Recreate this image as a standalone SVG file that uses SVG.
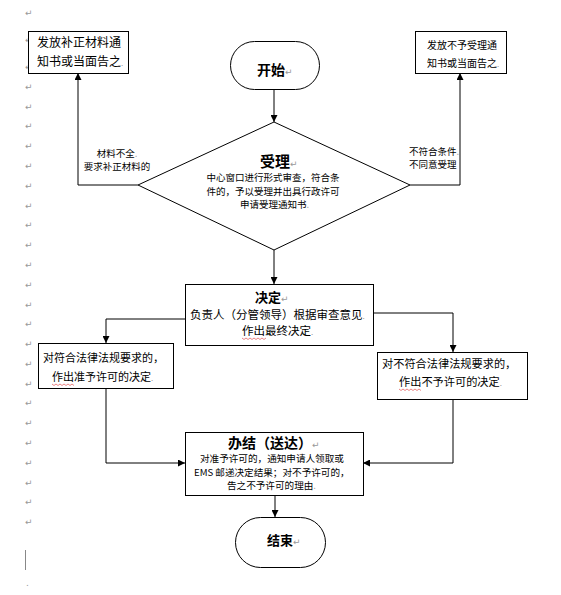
<svg xmlns="http://www.w3.org/2000/svg" width="561" height="595" viewBox="0 0 561 595">
<defs>
<marker id="ah" viewBox="0 0 10 10" refX="10" refY="5" markerWidth="7" markerHeight="7" orient="auto-start-reverse" markerUnits="userSpaceOnUse"><path d="M0,0 L10,5 L0,10 z" fill="#000"/></marker>
<style>
.box{fill:#fff;stroke:#000;stroke-width:1}
.ln{fill:none;stroke:#000;stroke-width:1}
.t{font-family:"Noto Sans CJK SC","Liberation Sans",sans-serif;fill:#000}
.b{font-weight:bold}
.pm{font-family:"DejaVu Sans",sans-serif;fill:#999;font-size:9px}
.sq{fill:none;stroke:#d33;stroke-width:0.6}
</style>
</defs>
<rect width="561" height="595" fill="#fff"/>
<g id="margin-marks">
<text class="pm" x="25" y="16">↵</text>
<text class="pm" x="25" y="43">↵</text>
<text class="pm" x="25" y="70">↵</text>
<text class="pm" x="25" y="90">↵</text>
<text class="pm" x="25" y="110">↵</text>
<text class="pm" x="25" y="129">↵</text>
<text class="pm" x="25" y="149">↵</text>
<text class="pm" x="25" y="169">↵</text>
<text class="pm" x="25" y="189">↵</text>
<text class="pm" x="25" y="209">↵</text>
<text class="pm" x="25" y="228">↵</text>
<text class="pm" x="25" y="248">↵</text>
<text class="pm" x="25" y="268">↵</text>
<text class="pm" x="25" y="288">↵</text>
<text class="pm" x="25" y="308">↵</text>
<text class="pm" x="25" y="327">↵</text>
<text class="pm" x="25" y="347">↵</text>
<text class="pm" x="25" y="367">↵</text>
<text class="pm" x="25" y="387">↵</text>
<text class="pm" x="25" y="406">↵</text>
<text class="pm" x="25" y="426">↵</text>
<text class="pm" x="25" y="446">↵</text>
<text class="pm" x="25" y="466">↵</text>
<text class="pm" x="25" y="486">↵</text>
<text class="pm" x="25" y="505">↵</text>
<text class="pm" x="25" y="525">↵</text>
<line x1="25.5" y1="550" x2="25.5" y2="570" stroke="#888" stroke-width="1"/>
<text class="pm" x="26" y="586">.</text>
</g>
<g id="connectors">
<line class="ln" x1="274" y1="89" x2="274" y2="122" marker-end="url(#ah)"/>
<polyline class="ln" points="138,185 78,185 78,73" marker-end="url(#ah)"/>
<polyline class="ln" points="410,185 460,185 460,73" marker-end="url(#ah)"/>
<line class="ln" x1="274" y1="250" x2="274" y2="284" marker-end="url(#ah)"/>
<polyline class="ln" points="185,319 106,319 106,343" marker-end="url(#ah)"/>
<polyline class="ln" points="373,313 453,313 453,352" marker-end="url(#ah)"/>
<polyline class="ln" points="106,388 106,463 185,463" marker-end="url(#ah)"/>
<polyline class="ln" points="453,399 453,463 363,463" marker-end="url(#ah)"/>
<line class="ln" x1="275" y1="495" x2="275" y2="517" marker-end="url(#ah)"/>
<text class="t" x="117" y="157" font-size="9.5" text-anchor="middle">材料不全<tspan fill="#999">.</tspan></text>
<text class="t" x="117" y="170" font-size="9.5" text-anchor="middle">要求补正材料的</text>
<text class="t" x="409" y="155" font-size="9.5">不符合条件<tspan fill="#999">.</tspan></text>
<text class="t" x="409" y="168" font-size="9.5">不同意受理</text>
</g>
<g id="node-supplement">
<rect class="box" x="28.5" y="31.5" width="100" height="42"/>
<text class="t" x="37" y="47" font-size="12">发放补正材料通</text>
<text class="t" x="37" y="66" font-size="12">知书或当面告之<tspan fill="#999" font-size="8">.</tspan></text>
</g>
<g id="node-reject">
<rect class="box" x="415.5" y="31.5" width="91" height="42"/>
<text class="t" x="427" y="49" font-size="10">发放不予受理通</text>
<text class="t" x="427" y="67" font-size="10">知书或当面告之<tspan fill="#999" font-size="8">.</tspan></text>
</g>
<g id="node-start">
<rect class="box" x="230.5" y="41.5" width="89" height="48" rx="24" ry="24"/>
<text class="t b" x="257" y="75" font-size="14">开始<tspan class="pm" font-weight="normal" font-size="8">↵</tspan></text>
</g>
<g id="node-accept">
<polygon class="box" points="274,122 410,185 274,250 138,185"/>
<text class="t b" x="260" y="167" font-size="15">受理<tspan class="pm" font-weight="normal" font-size="8">↵</tspan></text>
<text class="t" x="273" y="180.5" font-size="9.5" text-anchor="middle">中心窗口进行形式审查，符合条</text>
<text class="t" x="273" y="194.5" font-size="9.5" text-anchor="middle">件的，予以受理并出具行政许可</text>
<text class="t" x="240" y="208" font-size="9.5">申请受理通知书<tspan fill="#999">.</tspan></text>
</g>
<g id="node-decide">
<rect class="box" x="185.5" y="284.5" width="188" height="61"/>
<text class="t b" x="255" y="302" font-size="13">决定<tspan class="pm" font-weight="normal" font-size="8">↵</tspan></text>
<text class="t" x="190" y="319" font-size="11.5">负责人（分管领导）根据审查意见<tspan fill="#999" font-size="8">.</tspan></text>
<text class="t" x="242" y="335" font-size="11.5">作出最终决定<tspan fill="#999" font-size="8">.</tspan></text>
<path class="sq" d="M242,338 l2,1.5 l2,-1.5 l2,1.5 l2,-1.5 l2,1.5 l2,-1.5 l2,1.5 l2,-1.5 l2,1.5 l2,-1.5 l2,1.5 l2,-1.5"/>
</g>
<g id="node-approve">
<rect class="box" x="38.5" y="343.5" width="135" height="45"/>
<text class="t" x="43" y="362" font-size="11">对符合法律法规要求的，</text>
<text class="t" x="52" y="381" font-size="11">作出准予许可的决定<tspan fill="#999" font-size="8">.</tspan></text>
<path class="sq" d="M52,384 l2,1.5 l2,-1.5 l2,1.5 l2,-1.5 l2,1.5 l2,-1.5 l2,1.5 l2,-1.5 l2,1.5 l2,-1.5 l2,1.5"/>
</g>
<g id="node-deny">
<rect class="box" x="377.5" y="352.5" width="150" height="47"/>
<text class="t" x="382" y="368" font-size="11.2">对不符合法律法规要求的，</text>
<text class="t" x="399" y="386" font-size="11.2">作出不予许可的决定<tspan fill="#999" font-size="8">.</tspan></text>
<path class="sq" d="M399,389 l2,1.5 l2,-1.5 l2,1.5 l2,-1.5 l2,1.5 l2,-1.5 l2,1.5 l2,-1.5 l2,1.5 l2,-1.5 l2,1.5"/>
</g>
<g id="node-finish">
<rect class="box" x="185.5" y="432.5" width="178" height="63"/>
<text class="t b" x="228" y="448" font-size="14">办结（送达）<tspan class="pm" font-weight="normal" font-size="8">↵</tspan></text>
<text class="t" x="200" y="462" font-size="9.6">对准予许可的，通知申请人领取或</text>
<text class="t" x="194" y="475.5" font-size="9.6">EMS 邮递决定结果；对不予许可的，</text>
<text class="t" x="227" y="489" font-size="9.6">告之不予许可的理由<tspan fill="#999">.</tspan></text>
</g>
<g id="node-end">
<rect class="box" x="235.5" y="517.5" width="90" height="50" rx="25" ry="25"/>
<text class="t b" x="267" y="545" font-size="13">结束<tspan class="pm" font-weight="normal" font-size="8">↵</tspan></text>
</g>
</svg>
